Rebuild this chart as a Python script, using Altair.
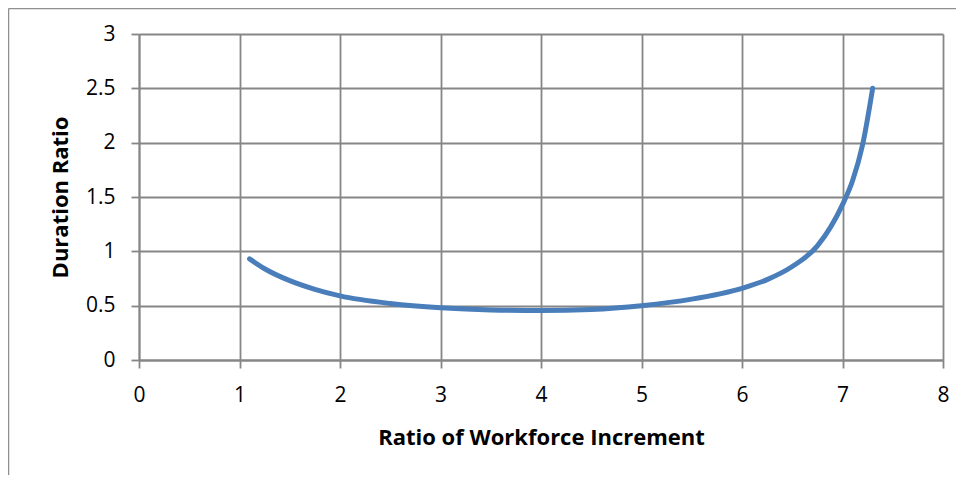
import altair as alt
import pandas as pd

x_vals = [1.1, 1.25, 1.5, 1.75, 2.0, 2.5, 3.0, 3.5, 4.0, 4.5, 5.0, 5.5, 6.0, 6.25, 6.5, 6.75, 7.0, 7.1, 7.2, 7.3]
y_vals = [0.93, 0.84, 0.73, 0.65, 0.59, 0.52, 0.48, 0.46, 0.455, 0.465, 0.50, 0.56, 0.66, 0.74, 0.86, 1.05, 1.43, 1.65, 1.98, 2.5]

x_ticks = [0, 1, 2, 3, 4, 5, 6, 7, 8]
y_ticks = [0, 0.5, 1, 1.5, 2, 2.5, 3]

df = pd.DataFrame({"x": x_vals, "y": y_vals})

FONT = "Open Sans"
GRID = "#868686"

line = alt.Chart(df).mark_line(
    color="#4a7ebb", strokeWidth=5, strokeCap="round", interpolate="monotone"
).encode(
    x=alt.X("x:Q", scale=alt.Scale(domain=[0, 8], nice=False),
            axis=alt.Axis(values=x_ticks, title="Ratio of Workforce Increment",
                          titleX=402, titleY=77, titleBaseline="middle",
                          labelPadding=16, tickSize=8, format="~g", labelFlush=False,
                          labelFontSize=21, titleFontSize=22)),
    y=alt.Y("y:Q", scale=alt.Scale(domain=[0, 3], nice=False),
            axis=alt.Axis(values=y_ticks, title="Duration Ratio",
                          titleX=-79, titleY=163, titleBaseline="middle", titleAngle=-90,
                          labelPadding=16, tickSize=8, format="~g", labelFlush=False,
                          labelFontSize=21, titleFontSize=22)),
)

frame_df = pd.DataFrame({"a": [0]})
frame_top = alt.Chart(frame_df).mark_rule(color="#8f8f8f", strokeWidth=1.5).encode(
    x=alt.value(-130.5), x2=alt.value(820), y=alt.value(-25.5)
)
frame_left = alt.Chart(frame_df).mark_rule(color="#8f8f8f", strokeWidth=1.5).encode(
    x=alt.value(-130.5), y=alt.value(-25.5), y2=alt.value(445)
)

chart = alt.layer(line, frame_top, frame_left).properties(
    width=804, height=326,
    autosize=alt.AutoSizeParams(type="none"),
    padding={"left": 131, "top": 26, "right": 13, "bottom": 115},
).configure_view(stroke=None).configure_axis(
    labelFont=FONT, labelColor="#000000",
    titleFont=FONT, titleFontWeight="bold", titleColor="#000000",
    gridColor=GRID, gridWidth=1.8, gridOpacity=1,
    domainColor=GRID, domainWidth=1.8,
    tickColor=GRID, tickWidth=1.8,
).configure_axisY(labelAlign="right")

chart.save("out.html", embed_options={"renderer": "svg", "actions": False})
